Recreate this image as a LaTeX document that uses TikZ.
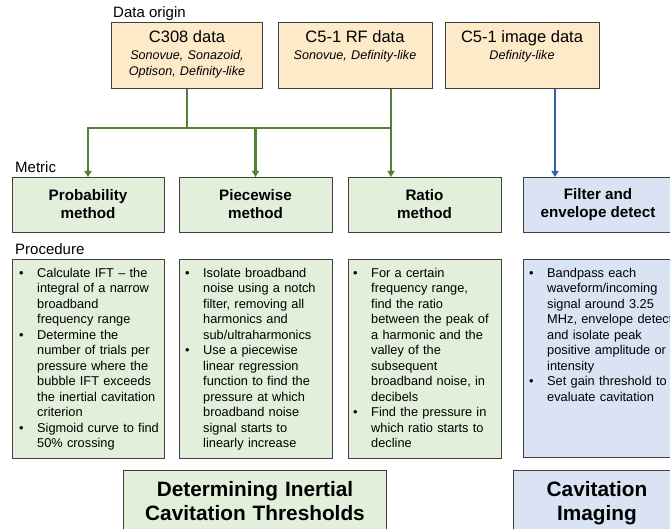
\documentclass[tikz,border=0pt]{standalone}
\usepackage{fontspec}
\setmainfont{Liberation Sans}
\usetikzlibrary{arrows.meta}
\definecolor{creamfill}{HTML}{FCEAC8}
\definecolor{greenfill}{HTML}{E2EFDA}
\definecolor{bluefill}{HTML}{DAE3F3}
\definecolor{boxline}{HTML}{404040}
\definecolor{greenline}{HTML}{548235}
\definecolor{blueline}{HTML}{3560A8}
\newcommand{\bul}{\leavevmode\llap{\textbullet\hspace{13.5pt}}}
\begin{document}
\begin{tikzpicture}[x=1pt,y=-1pt,
  box/.style={draw=boxline, line width=1.3pt, rectangle, inner sep=0pt, anchor=north west},
  databox/.style={box, fill=creamfill},
  gbox/.style={box, fill=greenfill},
  bbox/.style={box, fill=bluefill},
  lbl/.style={font=\fontsize{15}{18}\selectfont, anchor=west, inner sep=0pt},
  dtitle/.style={font=\fontsize{16.5}{19}\selectfont, anchor=base, inner sep=0pt},
  dsub/.style={font=\fontsize{12.6}{16}\selectfont\itshape, text width=150pt, align=center, anchor=base, inner sep=0pt},
  mtitle/.style={font=\fontsize{15.2}{18}\selectfont\bfseries, align=center, inner sep=0pt},
  proc/.style={font=\fontsize{12.8}{15.5}\selectfont, text width=150pt, align=left, anchor=base west, inner sep=0pt},
  btitle/.style={font=\fontsize{20.8}{24}\selectfont\bfseries, text width=260pt, align=center, anchor=base, inner sep=0pt},
  garrow/.style={draw=greenline, line width=2.3pt, -{Triangle[width=7pt,length=6pt]}},
  gline/.style={draw=greenline, line width=2.3pt},
  barrow/.style={draw=blueline, line width=2.1pt, -{Triangle[width=7pt,length=6pt]}}
]
\useasboundingbox (0,0) rectangle (670,529);
\begin{scope}
\clip (0,0) rectangle (670,529);

% labels
\node[lbl] (lorigin) at (113,14) {Data origin};
\node[lbl] (lmetric) at (15,167) {Metric};
\node[lbl] (lproc) at (15,249) {Procedure};

% data origin boxes
\node[databox, minimum width=151pt, minimum height=66pt] (c308) at (111,22) {};
\node[databox, minimum width=154pt, minimum height=66pt] (rf) at (278,22) {};
\node[databox, minimum width=154pt, minimum height=66pt] (img) at (445,22) {};
\node[dtitle] (c308t) at (187,43) {C308 data};
\node[dsub] (c308s) at (187,59.5) {Sonovue, Sonazoid,\\Optison, Definity-like};
\node[dtitle] (rft) at (355,43) {C5-1 RF data};
\node[dsub] (rfs) at (355,59.5) {Sonovue, Definity-like};
\node[dtitle] (imgt) at (522,43) {C5-1 image data};
\node[dsub] (imgs) at (522,59.5) {Definity-like};

% metric boxes
\node[gbox, minimum width=152pt, minimum height=55pt] (prob) at (12,177) {};
\node[gbox, minimum width=153pt, minimum height=55pt] (piece) at (179,177) {};
\node[gbox, minimum width=153pt, minimum height=55pt] (ratio) at (348,177) {};
\node[bbox, minimum width=150pt, minimum height=55pt] (filt) at (523,177) {};
\node[mtitle] (probt) at (88,204.5) {Probability\\method};
\node[mtitle] (piecet) at (255.5,204.5) {Piecewise\\method};
\node[mtitle] (ratiot) at (424.5,204.5) {Ratio\\method};
\node[mtitle] (filtt) at (598,204.5) {Filter and\\envelope detect};

% procedure boxes
\node[gbox, minimum width=152pt, minimum height=199pt] (probp) at (12,259) {};
\node[gbox, minimum width=153pt, minimum height=199pt] (piecep) at (179,259) {};
\node[gbox, minimum width=153pt, minimum height=199pt] (ratiop) at (348,259) {};
\node[bbox, minimum width=150pt, minimum height=198pt] (filtp) at (523,259) {};

\node[proc] (probtx) at (37,277.5) {\bul Calculate IFT – the\\
integral of a narrow\\
broadband\\
frequency range\\
\bul Determine the\\
number of trials per\\
pressure where the\\
bubble IFT exceeds\\
the inertial cavitation\\
criterion\\
\bul Sigmoid curve to find\\
50\% crossing};

\node[proc] (piecetx) at (203,277.5) {\bul Isolate broadband\\
noise using a notch\\
filter, removing all\\
harmonics and\\
sub/ultraharmonics\\
\bul Use a piecewise\\
linear regression\\
function to find the\\
pressure at which\\
broadband noise\\
signal starts to\\
linearly increase};

\node[proc] (ratiotx) at (371,277.5) {\bul For a certain\\
frequency range,\\
find the ratio\\
between the peak of\\
a harmonic and the\\
valley of the\\
subsequent\\
broadband noise, in\\
decibels\\
\bul Find the pressure in\\
which ratio starts to\\
decline};

\node[proc] (filttx) at (547,277.5) {\bul Bandpass each\\
waveform/incoming\\
signal around 3.25\\
MHz, envelope detect\\
and isolate peak\\
positive amplitude or\\
intensity\\
\bul Set gain threshold to\\
evaluate cavitation};

% bottom boxes
\node[gbox, minimum width=263pt, minimum height=80pt] (ict) at (123,470) {};
\node[bbox, minimum width=168pt, minimum height=80pt] (cimg) at (513,470) {};
\node[btitle] (ictt) at (255,496.5) {Determining Inertial\\Cavitation Thresholds};
\node[btitle] (cimgt) at (597,496.5) {Cavitation\\Imaging};

% connectors
\coordinate (j1) at (187,128);
\coordinate (jl) at (88,128);
\coordinate (jm) at (255.5,128);
\coordinate (jr) at (391,128);
\draw[gline] (c308.south -| j1) -- (j1);
\draw[gline] (jl) -- (jr);
\draw[garrow] ([yshift=1.15pt]jl) -- (prob.north -| jl);
\draw[garrow] (jm) -- (piece.north -| jm);
\draw[garrow] (rf.south -| jr) -- (ratio.north -| jr);
\draw[barrow] (img.south -| 555,0) -- (filt.north -| 555,0);
\end{scope}
\end{tikzpicture}
\end{document}
